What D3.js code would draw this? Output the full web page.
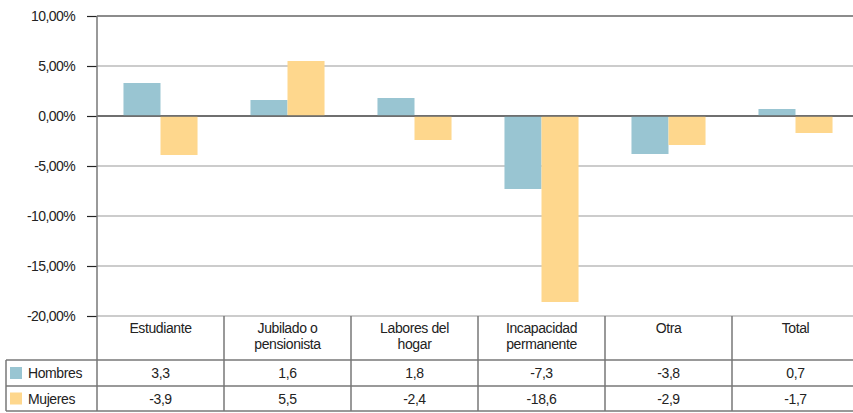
<!DOCTYPE html>
<html lang="es">
<head>
<meta charset="utf-8">
<title>Hombres / Mujeres</title>
<script src="https://cdn.jsdelivr.net/npm/d3@7"></script>
<style>
    body { margin: 0; background: #fff; }
    text { font-family: "Liberation Sans", Arial, sans-serif; fill: #222; }
</style>
</head>
<body>
<script>

    var categories = [["Estudiante"], ["Jubilado o", "pensionista"], ["Labores del", "hogar"],
                      ["Incapacidad", "permanente"], ["Otra"], ["Total"]];
    var hombres = [3.3, 1.6, 1.8, -7.3, -3.8, 0.7];
    var mujeres = [-3.9, 5.5, -2.4, -18.6, -2.9, -1.7];
    var yTicks = [10, 5, 0, -5, -10, -15, -20];
    var seriesNames = ["Hombres", "Mujeres"];
    var seriesColors = ["#99c5d2", "#fed78d"];

    var W = 853, H = 413;
    var plotLeft = 97, plotTop = 16, plotBottom = 316;

    var svg = d3.select("body").append("svg")
        .attr("width", W)
        .attr("height", H);

    var xScale = d3.scaleBand()
        .domain(d3.range(categories.length))
        .range([plotLeft, plotLeft + 127 * categories.length]);

    var inner = d3.scaleBand()
        .domain([0, 1])
        .range([0, xScale.bandwidth()])
        .paddingOuter(0.715)
        .paddingInner(0);

    var yScale = d3.scaleLinear()
        .domain([-20, 10])
        .range([plotBottom, plotTop]);

    // spanish style numbers, plain hyphen for minus
    var es = d3.formatLocale({decimal: ",", thousands: ".", grouping: [3], currency: ["", "€"], minus: "-"});
    var fmt = function (v) { return es.format(".2f")(v) + "%"; };
    var fmt1 = es.format(".1f");

    // grid lines
    svg.append("g")
        .selectAll("line")
        .data(yTicks)
        .enter()
        .append("line")
        .attr("x1", plotLeft)
        .attr("x2", W)
        .attr("y1", function (d) { return yScale(d); })
        .attr("y2", function (d) { return yScale(d); })
        .attr("stroke", function (d) { return d === 10 || d === 0 ? "#666" : "#999"; })
        .attr("stroke-width", function (d) { return d === 10 || d === 0 ? 1.6 : 1.2; });

    // bars
    var data = [hombres, mujeres];
    data.forEach(function (series, s) {
        svg.append("g")
            .selectAll("rect")
            .data(series)
            .enter()
            .append("rect")
            .attr("x", function (d, i) { return xScale(i) + inner(s); })
            .attr("width", inner.bandwidth())
            .attr("y", function (d) { return yScale(Math.max(0, d)); })
            .attr("height", function (d) { return Math.abs(yScale(d) - yScale(0)); })
            .attr("fill", seriesColors[s]);
    });

    // zero line on top of bars
    svg.append("line")
        .attr("x1", plotLeft).attr("x2", W)
        .attr("y1", yScale(0)).attr("y2", yScale(0))
        .attr("stroke", "#666").attr("stroke-width", 1.6);

    // y axis
    var yAxis = d3.axisLeft(yScale)
        .tickValues(yTicks)
        .tickSize(10)
        .tickPadding(12)
        .tickFormat(fmt);

    var gy = svg.append("g")
        .attr("transform", "translate(" + plotLeft + ",0)")
        .call(yAxis);
    gy.select(".domain").remove();
    gy.selectAll(".tick line").attr("stroke", "#222").attr("stroke-width", 1.2);
    gy.selectAll(".tick text")
        .attr("font-size", 14)
        .attr("letter-spacing", -0.6)
        .attr("fill", "#222")
        .style("font-family", "'Liberation Sans', Arial, sans-serif");

    // table
    var grid = svg.append("g").attr("stroke", "#777").attr("stroke-width", 1.5).attr("fill", "none");
    var rowY = [plotBottom, 360, 386, 411];

    // vertical axis / column lines
    grid.append("line").attr("x1", plotLeft).attr("x2", plotLeft).attr("y1", plotTop).attr("y2", rowY[3]);
    xScale.domain().slice(1).forEach(function (i) {
        grid.append("line")
            .attr("x1", xScale(i)).attr("x2", xScale(i))
            .attr("y1", plotBottom).attr("y2", rowY[3]);
    });
    grid.append("line").attr("x1", 6).attr("x2", 6).attr("y1", rowY[1]).attr("y2", rowY[3]);
    [1, 2, 3].forEach(function (r) {
        grid.append("line").attr("x1", 6).attr("x2", W).attr("y1", rowY[r]).attr("y2", rowY[r]);
    });

    // header labels
    categories.forEach(function (lines, i) {
        var t = svg.append("text")
            .attr("x", xScale(i) + xScale.bandwidth() / 2)
            .attr("y", 333)
            .attr("text-anchor", "middle")
            .attr("font-size", 14)
            .attr("letter-spacing", -0.4);
        lines.forEach(function (ln, k) {
            t.append("tspan")
                .attr("x", xScale(i) + xScale.bandwidth() / 2)
                .attr("dy", k === 0 ? 0 : 16)
                .text(ln);
        });
    });

    // series rows
    data.forEach(function (series, s) {
        var yMid = (rowY[s + 1] + rowY[s + 2]) / 2;
        svg.append("rect")
            .attr("x", 10).attr("y", yMid - 6)
            .attr("width", 12).attr("height", 12)
            .attr("fill", seriesColors[s]);
        svg.append("text")
            .attr("x", 28).attr("y", yMid + 5)
            .attr("font-size", 14)
            .attr("letter-spacing", -0.4)
            .text(seriesNames[s]);
        svg.append("g")
            .selectAll("text")
            .data(series)
            .enter()
            .append("text")
            .attr("x", function (d, i) { return xScale(i) + xScale.bandwidth() / 2; })
            .attr("y", yMid + 5)
            .attr("text-anchor", "middle")
            .attr("font-size", 14)
            .attr("letter-spacing", -0.4)
            .text(fmt1);
    });

</script>
</body>
</html>
